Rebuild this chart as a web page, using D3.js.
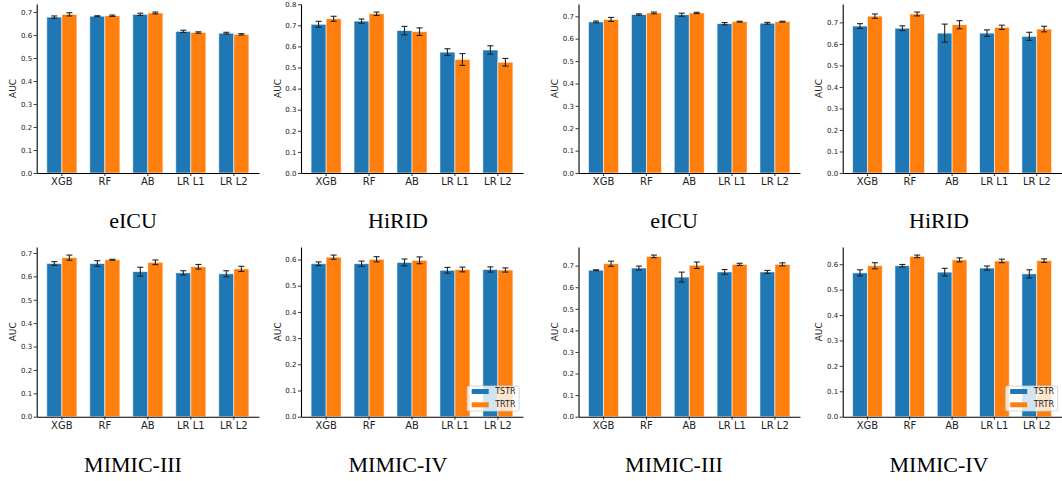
<!DOCTYPE html>
<html>
<head>
<meta charset="utf-8">
<script src="https://cdn.jsdelivr.net/npm/d3@7"></script>
<style>
  body { margin: 0; background: #fff; }
  svg { display: block; }
</style>
</head>
<body>
<svg id="chart" width="1062" height="481"></svg>
<script>
// Categories, series and panel titles
const models = ["XGB", "RF", "AB", "LR L1", "LR L2"];
const seriesNames = ["TSTR", "TRTR"];
const titles = ["eICU", "HiRID", "eICU", "HiRID", "MIMIC-III", "MIMIC-IV", "MIMIC-III", "MIMIC-IV"];

// Mean AUC and error (half-height of bar) per panel
const eicuLeftTstr     = [0.678, 0.682, 0.690, 0.616, 0.608];
const eicuLeftTstrErr  = [0.005, 0.002, 0.005, 0.005, 0.004];
const eicuLeftTrtr     = [0.690, 0.684, 0.696, 0.611, 0.603];
const eicuLeftTrtrErr  = [0.007, 0.003, 0.004, 0.003, 0.003];

const hiridLeftTstr    = [0.705, 0.720, 0.675, 0.573, 0.583];
const hiridLeftTstrErr = [0.014, 0.010, 0.020, 0.016, 0.020];
const hiridLeftTrtr    = [0.731, 0.755, 0.670, 0.538, 0.525];
const hiridLeftTrtrErr = [0.012, 0.008, 0.018, 0.028, 0.018];

const eicuRightTstr    = [0.675, 0.708, 0.707, 0.667, 0.669];
const eicuRightTstrErr = [0.004, 0.003, 0.007, 0.005, 0.004];
const eicuRightTrtr    = [0.686, 0.715, 0.715, 0.676, 0.676];
const eicuRightTrtrErr = [0.009, 0.004, 0.003, 0.002, 0.002];

const hiridRightTstr    = [0.683, 0.673, 0.650, 0.650, 0.635];
const hiridRightTstrErr = [0.011, 0.011, 0.042, 0.015, 0.019];
const hiridRightTrtr    = [0.729, 0.739, 0.689, 0.677, 0.669];
const hiridRightTrtrErr = [0.010, 0.009, 0.019, 0.010, 0.013];

const mimic3LeftTstr    = [0.655, 0.655, 0.620, 0.615, 0.611];
const mimic3LeftTstrErr = [0.008, 0.012, 0.019, 0.009, 0.013];
const mimic3LeftTrtr    = [0.680, 0.671, 0.660, 0.641, 0.632];
const mimic3LeftTrtrErr = [0.011, 0.002, 0.010, 0.010, 0.011];

const mimic4LeftTstr    = [0.584, 0.584, 0.589, 0.559, 0.562];
const mimic4LeftTstrErr = [0.007, 0.010, 0.013, 0.011, 0.010];
const mimic4LeftTrtr    = [0.609, 0.601, 0.597, 0.562, 0.560];
const mimic4LeftTrtrErr = [0.008, 0.010, 0.013, 0.009, 0.008];

const mimic3RightTstr    = [0.679, 0.689, 0.647, 0.671, 0.671];
const mimic3RightTstrErr = [0.002, 0.009, 0.023, 0.011, 0.007];
const mimic3RightTrtr    = [0.709, 0.743, 0.702, 0.706, 0.706];
const mimic3RightTrtrErr = [0.012, 0.006, 0.015, 0.005, 0.007];

const mimic4RightTstr    = [0.566, 0.594, 0.569, 0.585, 0.562];
const mimic4RightTstrErr = [0.012, 0.005, 0.015, 0.008, 0.016];
const mimic4RightTrtr    = [0.594, 0.631, 0.617, 0.613, 0.614];
const mimic4RightTrtrErr = [0.012, 0.005, 0.008, 0.007, 0.007];

// Group the arrays per panel (same order as titles)
const panelValues = [
  [eicuLeftTstr, eicuLeftTrtr], [hiridLeftTstr, hiridLeftTrtr],
  [eicuRightTstr, eicuRightTrtr], [hiridRightTstr, hiridRightTrtr],
  [mimic3LeftTstr, mimic3LeftTrtr], [mimic4LeftTstr, mimic4LeftTrtr],
  [mimic3RightTstr, mimic3RightTrtr], [mimic4RightTstr, mimic4RightTrtr]
];
const panelErrors = [
  [eicuLeftTstrErr, eicuLeftTrtrErr], [hiridLeftTstrErr, hiridLeftTrtrErr],
  [eicuRightTstrErr, eicuRightTrtrErr], [hiridRightTstrErr, hiridRightTrtrErr],
  [mimic3LeftTstrErr, mimic3LeftTrtrErr], [mimic4LeftTstrErr, mimic4LeftTrtrErr],
  [mimic3RightTstrErr, mimic3RightTrtrErr], [mimic4RightTstrErr, mimic4RightTrtrErr]
];
const legendPanels = [5, 7];

// Layout of the 2x4 grid
const colLeft = [36.7, 301, 578.5, 842.7];
const colRight = [259, 523, 800, 1061.5];
const titleX = [133, 398, 674, 939];
const rowTop = [4, 247];
const rowBottom = [173, 416.7];
const titleY = [228, 471.5];

let color = d3.scaleOrdinal().domain(seriesNames).range(["#1f77b4", "#ff7f0e"]);
let svg = d3.select("#chart");

function drawPanel(i) {
  let row = Math.floor(i / 4), col = i % 4;
  let w = colRight[col] - colLeft[col];
  let h = rowBottom[row] - rowTop[row];
  let vals = panelValues[i], errs = panelErrors[i];

  // matplotlib-like autoscale: top = max(value + err) plus 5% margin
  let top = d3.max(vals.map((s, k) => d3.max(s.map((v, j) => v + errs[k][j])))) * 1.05;

  let x = d3.scaleBand().domain(models).range([0, w])
    .paddingInner(0.3).paddingOuter(0.235);
  let xs = d3.scaleBand().domain(seriesNames).range([0, x.bandwidth()]);
  let y = d3.scaleLinear().domain([0, top]).range([h, 0]);

  let g = svg.append("g")
    .attr("transform", `translate(${colLeft[col]},${rowTop[row]})`);

  // bars
  seriesNames.forEach((s, k) => {
    g.append("g").selectAll("rect")
      .data(models)
      .join("rect")
      .attr("x", d => x(d) + xs(s))
      .attr("y", (d, j) => y(vals[k][j]))
      .attr("width", xs.bandwidth())
      .attr("height", (d, j) => h - y(vals[k][j]))
      .attr("fill", color(s))
      .attr("stroke", "#fff")
      .attr("stroke-opacity", 0.7)
      .attr("stroke-width", 0.8);
  });

  // error bars
  seriesNames.forEach((s, k) => {
    let eg = g.append("g").attr("stroke", "#222").attr("stroke-width", 1.1);
    models.forEach((d, j) => {
      let cx = x(d) + xs(s) + xs.bandwidth() / 2;
      let y1 = y(vals[k][j] + errs[k][j]), y0 = y(vals[k][j] - errs[k][j]);
      eg.append("line").attr("x1", cx).attr("x2", cx).attr("y1", y1).attr("y2", y0);
      eg.append("line").attr("x1", cx - 3).attr("x2", cx + 3).attr("y1", y1).attr("y2", y1);
      eg.append("line").attr("x1", cx - 3).attr("x2", cx + 3).attr("y1", y0).attr("y2", y0);
    });
  });

  // axes
  let yAxis = g.append("g")
    .call(d3.axisLeft(y).ticks(8).tickFormat(d3.format(".1f")).tickSize(3).tickSizeOuter(0).tickPadding(1.5));
  yAxis.selectAll("text").attr("font-size", 7).attr("fill", "#222");

  let xAxis = g.append("g")
    .attr("transform", `translate(0,${h})`)
    .call(d3.axisBottom(x).tickSize(3).tickSizeOuter(0).tickPadding(2.3));
  xAxis.selectAll("text").attr("font-size", 10).attr("fill", "#222");

  [yAxis, xAxis].forEach(a => {
    a.attr("font-family", "'DejaVu Sans', sans-serif");
    a.select(".domain").attr("stroke", "#000").attr("stroke-width", 1.1);
    a.selectAll(".tick line").attr("stroke", "#000").attr("stroke-width", 0.8);
  });

  // y label
  g.append("text")
    .attr("transform", `translate(-23.4,${h / 2}) rotate(-90)`)
    .attr("text-anchor", "middle")
    .attr("dominant-baseline", "central")
    .attr("font-family", "'DejaVu Sans', sans-serif")
    .attr("font-size", 9)
    .attr("fill", "#222")
    .text("AUC");

  // legend (bottom-right, only on the MIMIC-IV panels)
  if (legendPanels.includes(i)) {
    let bw = 52, bh = 25;
    let lg = g.append("g").attr("transform", `translate(${w - 3.8 - bw},${h - 5.7 - bh})`);
    lg.append("rect")
      .attr("width", bw).attr("height", bh).attr("rx", 2)
      .attr("fill", "#fff").attr("fill-opacity", 0.8)
      .attr("stroke", "#ccc").attr("stroke-width", 0.8);
    seriesNames.forEach((s, k) => {
      let ly = 5.5 + k * 13.3;
      lg.append("rect")
        .attr("x", 4.5).attr("y", ly - 2.5)
        .attr("width", 17).attr("height", 5)
        .attr("fill", color(s));
      lg.append("text")
        .attr("x", 28).attr("y", ly)
        .attr("dominant-baseline", "central")
        .attr("font-family", "'DejaVu Sans', sans-serif")
        .attr("font-size", 8)
        .attr("fill", "#222")
        .text(s);
    });
  }

  // panel caption
  svg.append("text")
    .attr("x", titleX[col])
    .attr("y", titleY[row])
    .attr("text-anchor", "middle")
    .attr("font-family", "'Liberation Serif', 'Times New Roman', serif")
    .attr("font-size", 22)
    .attr("fill", "#000")
    .text(titles[i]);
}

titles.forEach((t, i) => drawPanel(i));
</script>
</body>
</html>
